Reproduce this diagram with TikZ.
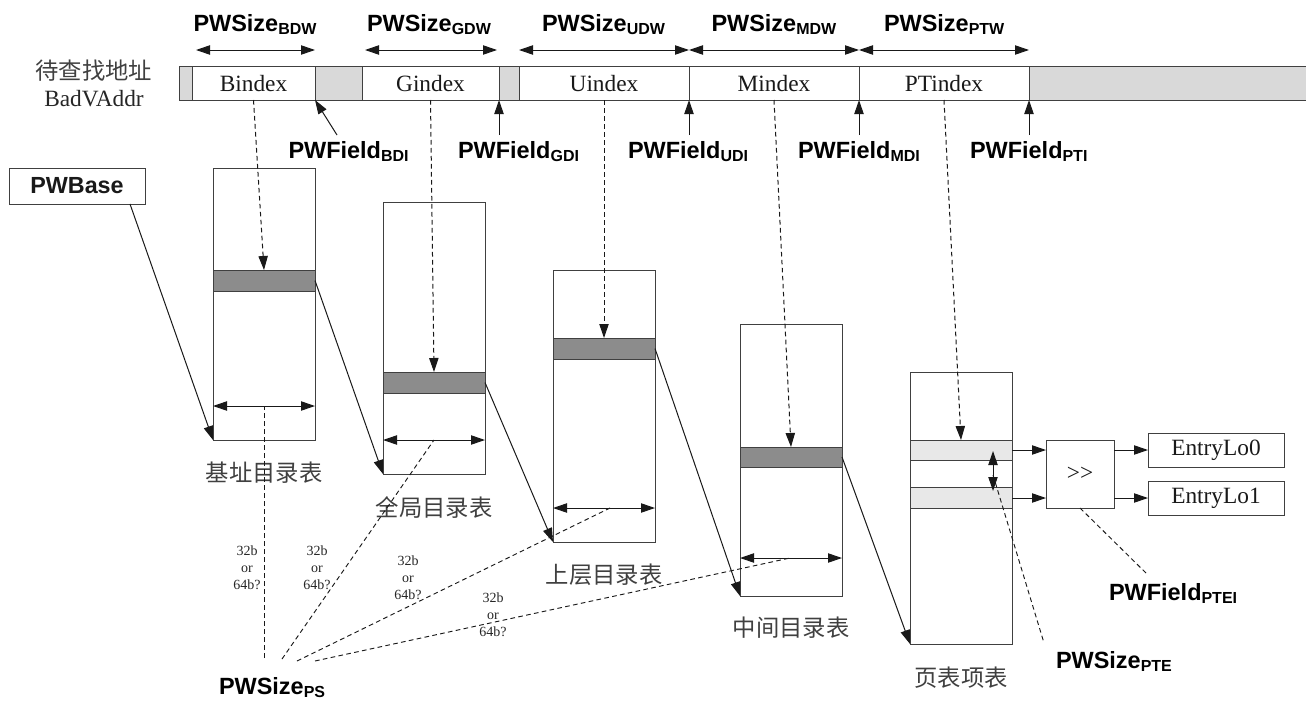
\documentclass[tikz,border=0pt]{standalone}
\usepackage{fontspec}
\setmainfont{Liberation Serif}
\setsansfont{Liberation Sans}
\newfontfamily\cjk{Noto Sans CJK SC}
\usetikzlibrary{arrows.meta,calc}
\definecolor{ln}{gray}{0.25}
\definecolor{barfill}{gray}{0.85}
\definecolor{bandfill}{gray}{0.55}
\definecolor{ptefill}{gray}{0.91}
\newcommand{\lab}[2]{{\sffamily\bfseries\fontsize{17.6}{20}\selectfont #1\raisebox{-2.4pt}{\fontsize{12}{13}\selectfont #2}}}
\newcommand{\pxbox}[7]{\node[#2,minimum width={(#5-#3)*0.75pt},minimum height={(#6-#4)*0.75pt}] (#1) at ({(#3+#5)/2},{(#4+#6)/2}) {#7};}
\tikzset{
  cell/.style={draw=ln,line width=0.7pt,inner sep=0pt,outer sep=0pt,font=\fontsize{17.5}{20}\selectfont,text=black!90},
  greycell/.style={cell,fill=barfill},
  whitecell/.style={cell,fill=white},
  band/.style={cell,fill=bandfill},
  pteband/.style={cell,fill=ptefill},
  conn/.style={draw=black!90,line width=0.75pt,-{Triangle[length=10.5pt,width=7pt]}},
  dbl/.style={draw=black!90,line width=0.75pt,{Triangle[length=10.5pt,width=7pt]}-{Triangle[length=10.5pt,width=7pt]}},
  dconn/.style={conn,dash pattern=on 3.5pt off 2.5pt},
  dline/.style={draw=black!90,line width=0.7pt,dash pattern=on 3.5pt off 2.5pt},
  plabel/.style={anchor=base west,inner sep=0pt,outer sep=0pt},
  cnlabel/.style={inner sep=0pt,font=\cjk\fontsize{17.5}{20}\selectfont,text=black!75},
  small/.style={inner sep=0pt,align=center,text=black!85,font=\fontsize{10.5}{12.6}\selectfont},
}
\begin{document}
\begin{tikzpicture}[x=0.75pt,y=-0.75pt]
\useasboundingbox (0,0) rectangle (1306,700);
% address bar
\pxbox{g0}{greycell}{179}{66.5}{192}{100}{}
\pxbox{binx}{whitecell}{192}{66.5}{315}{100}{Bindex}
\pxbox{g1}{greycell}{315}{66.5}{362}{100}{}
\pxbox{ginx}{whitecell}{362}{66.5}{499}{100}{Gindex}
\pxbox{g2}{greycell}{499}{66.5}{519}{100}{}
\pxbox{uinx}{whitecell}{519}{66.5}{689}{100}{Uindex}
\pxbox{minx}{whitecell}{689}{66.5}{859}{100}{Mindex}
\pxbox{pinx}{whitecell}{859}{66.5}{1029}{100}{PTindex}
\pxbox{g3}{greycell}{1029}{66.5}{1307}{100}{}
\node[cnlabel] (addrcn) at (94,71) {待查找地址};
\node[inner sep=0pt,font=\fontsize{17.5}{20}\selectfont,text=black!85] (addr) at (94,99) {BadVAddr};
% size labels
\node[plabel] (sbdw) at (193.5,31.5) {\lab{PWSize}{BDW}};
\node[plabel] (sgdw) at (367,31.5) {\lab{PWSize}{GDW}};
\node[plabel] (sudw) at (542,31.5) {\lab{PWSize}{UDW}};
\node[plabel] (smdw) at (711.5,31.5) {\lab{PWSize}{MDW}};
\node[plabel] (sptw) at (884,31.5) {\lab{PWSize}{PTW}};
\coordinate (a1) at (196,50); \coordinate (a2) at (315,50);
\coordinate (a3) at (365,50); \coordinate (a4) at (497,50);
\coordinate (a5) at (519,50); \coordinate (a6) at (689,50);
\coordinate (a7) at (859,50); \coordinate (a8) at (1029,50);
\draw[dbl] (a1) -- (a2);
\draw[dbl] (a3) -- (a4);
\draw[dbl] (a5) -- (a6);
\draw[dbl] (a6) -- (a7);
\draw[dbl] (a7) -- (a8);
% field labels
\node[plabel] (fbdi) at (288.5,158) {\lab{PWField}{BDI}};
\node[plabel] (fgdi) at (458,158) {\lab{PWField}{GDI}};
\node[plabel] (fudi) at (628,158) {\lab{PWField}{UDI}};
\node[plabel] (fmdi) at (798,158) {\lab{PWField}{MDI}};
\node[plabel] (fpti) at (970,158) {\lab{PWField}{PTI}};
\coordinate (b1) at (337,135); \coordinate (b2) at (499,135); \coordinate (b3) at (689,135); \coordinate (b4) at (859,135); \coordinate (b5) at (1029,135);
\draw[conn] (b1) -- (binx.south east);
\draw[conn] (b2) -- (ginx.south east);
\draw[conn] (b3) -- (uinx.south east);
\draw[conn] (b4) -- (minx.south east);
\draw[conn] (b5) -- (pinx.south east);
% PWBase
\pxbox{base}{cell}{9}{168}{145}{204}{\sffamily\bfseries PWBase}
% tables
\pxbox{t1}{cell}{213}{168}{315}{440}{}
\pxbox{t2}{cell}{383}{202}{485}{474}{}
\pxbox{t3}{cell}{553}{270}{655}{542}{}
\pxbox{t4}{cell}{740}{324}{842}{596}{}
\pxbox{t5}{cell}{910}{372}{1012}{644}{}
\pxbox{r1}{band}{213}{270}{315}{291}{}
\pxbox{r2}{band}{383}{372}{485}{393}{}
\pxbox{r3}{band}{553}{338}{655}{359}{}
\pxbox{r4}{band}{740}{447}{842}{467}{}
\pxbox{r5}{pteband}{910}{440}{1012}{460}{}
\pxbox{r6}{pteband}{910}{487}{1012}{508}{}
% table names
\node[cnlabel] (n1) at (264,473) {基址目录表};
\node[cnlabel] (n2) at (434,508) {全局目录表};
\node[cnlabel] (n3) at (604,575) {上层目录表};
\node[cnlabel] (n4) at (791,628) {中间目录表};
\node[cnlabel] (n5) at (961,678) {页表项表};
% base pointers
\coordinate (bo) at (130,204);
\draw[conn] (bo) -- (t1.south west);
\draw[conn] (r1.east) -- (t2.south west);
\draw[conn] (r2.east) -- (t3.south west);
\draw[conn] (r3.east) -- (t4.south west);
\draw[conn] (r4.east) -- (t5.south west);
% index pointers
\draw[dconn] (binx.south) -- (r1.north);
\draw[dconn] (ginx.south) -- (r2.north);
\draw[dconn] (uinx.south) -- (r3.north);
\draw[dconn] (minx.south) -- (r4.north);
\draw[dconn] (pinx.south) -- (r5.north);
% width arrows
\coordinate (w1a) at (213,406); \coordinate (w1b) at (315,406);
\coordinate (w2a) at (383,440); \coordinate (w2b) at (485,440);
\coordinate (w3a) at (553,508); \coordinate (w3b) at (655,508);
\coordinate (w4a) at (740,558); \coordinate (w4b) at (842,558);
\draw[dbl] (w1a) -- (w1b);
\draw[dbl] (w2a) -- (w2b);
\draw[dbl] (w3a) -- (w3b);
\draw[dbl] (w4a) -- (w4b);
% PWSize PS
\node[plabel] (sps) at (219,694) {\lab{PWSize}{PS}};
\coordinate (p1) at (264,658); \coordinate (p2) at (282,659); \coordinate (p3) at (297,661); \coordinate (p4) at (315,661);
\draw[dline] (p1) -- ($(w1a)!0.5!(w1b)$);
\draw[dline] (p2) -- ($(w2a)!0.5!(w2b)$);
\draw[dline] (p3) -- (610,508);
\draw[dline] (p4) -- (790,558);
\node[small] (q1) at (247,568) {32b\\or\\64b?};
\node[small] (q2) at (317,568) {32b\\or\\64b?};
\node[small] (q3) at (408,578) {32b\\or\\64b?};
\node[small] (q4) at (493,615) {32b\\or\\64b?};
% shift box and outputs
\pxbox{shift}{cell}{1046}{440}{1114}{508}{\raisebox{-2pt}{>{}>}}
\pxbox{lo0}{cell}{1148}{433}{1284}{467}{EntryLo0}
\pxbox{lo1}{cell}{1148}{481}{1284}{515}{EntryLo1}
\draw[conn] (r5.east |- 0,450) -- (shift.west |- 0,450);
\draw[conn] (r6.east |- 0,498) -- (shift.west |- 0,498);
\draw[conn] (shift.east |- 0,450) -- (lo0.west |- 0,450);
\draw[conn] (shift.east |- 0,498) -- (lo1.west |- 0,498);
% PTE size
\coordinate (e1) at (993,451); \coordinate (e2) at (993,491);
\draw[dbl] (e1) -- (e2);
\node[plabel] (spte) at (1056,668) {\lab{PWSize}{PTE}};
\node[plabel] (fptei) at (1109,600) {\lab{PWField}{PTEI}};
\coordinate (d1) at (993,475); \coordinate (d2) at (1044,643); \coordinate (d3) at (1147,574);
\draw[dline] (d1) -- (d2);
\draw[dline] (shift.south) -- (d3);
\end{tikzpicture}
\end{document}
